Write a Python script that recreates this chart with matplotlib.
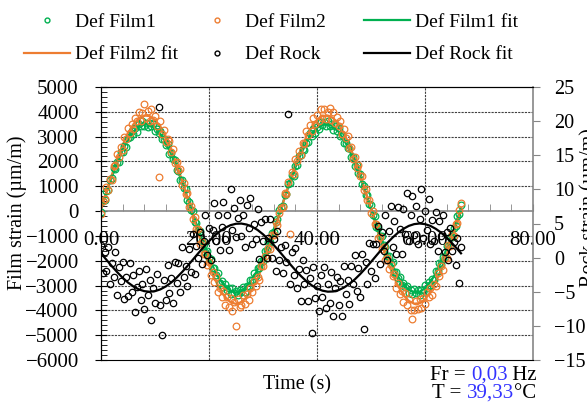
import numpy as np
import matplotlib
matplotlib.use('Agg')
import matplotlib.pyplot as plt
from matplotlib.lines import Line2D
from matplotlib.ticker import MultipleLocator, FixedLocator

plt.rcParams['font.family'] = 'Liberation Serif'

# samples every 1/3 s
t = np.arange(201) / 3

film1 = [-30, 390, 460, 790, 850, 1270, 1330, 1720, 1680, 1960,
         1990, 2380, 2390, 2640, 2570, 2940, 2970, 3230, 3100, 3330,
         3200, 3490, 3410, 3610, 3420, 3550, 3370, 3550, 3430, 3520,
         3230, 3300, 3130, 3240, 2890, 2920, 2680, 2700, 2300, 2360,
         2100, 2070, 1670, 1610, 1240, 1260, 920, 880, 450, 360,
         40, -10, -420, -460, -770, -790, -1220, -1310, -1650, -1620,
         -1910, -1940, -2310, -2310, -2560, -2500, -2890, -2820, -3040, -2940,
         -3160, -3100, -3340, -3100, -3300, -3220, -3380, -3160, -3280, -3050,
         -3250, -3010, -3030, -2760, -2770, -2490, -2620, -2300, -2300, -2030,
         -2030, -1590, -1560, -1250, -1230, -880, -860, -430, -330, 30,
         160, 220, 630, 700, 1100, 1150, 1460, 1430, 1810, 1850,
         2230, 2260, 2520, 2480, 2760, 2790, 3130, 3040, 3290, 3150,
         3390, 3310, 3580, 3450, 3580, 3410, 3610, 3420, 3490, 3260,
         3440, 3240, 3330, 3010, 3050, 2750, 2760, 2540, 2560, 2190,
         2170, 1800, 1840, 1540, 1490, 1090, 1010, 630, 640, 280,
         230, -150, -210, -660, -690, -1010, -1000, -1360, -1450, -1820,
         -1790, -2100, -2070, -2460, -2470, -2700, -2640, -2990, -2900, -3060,
         -3010, -3310, -3170, -3340, -3150, -3320, -3190, -3370, -3190, -3250,
         -2970, -3100, -2870, -2970, -2730, -2760, -2430, -2400, -2090, -2140,
         -1830, -1850, -1420, -1390, -1050, -1040, -700, -590, -180, -110,
         250]

film2 = [-110, 420, 480, 970, 860, 1310, 1260, 1830, 1850, 2310,
         2170, 2570, 2480, 2990, 2920, 3350, 3140, 3490, 3300, 3770,
         3620, 3990, 3640, 3950, 4300, 3760, 4050, 3610, 4120, 3680,
         3820, 3410, 1370, 3610, 3120, 3260, 2790, 2890, 2810, 2390,
         2490, 1950, 1990, 1640, 1680, 1060, 1140, 680, 720, 180,
         210, -310, -220, -730, -720, -1320, -1240, -1710, -1710, -2170,
         -2040, -2590, -2460, -2870, -2670, -3260, -3100, -3470, -3230, -3770,
         -3460, -3870, -3490, -4040, -3670, -4640, -3530, -3860, -3770, -3390,
         -3730, -3350, -3580, -3110, -3240, -2800, -3010, -2640, -2760, -2220,
         -2230, -1790, -1890, -1480, -1540, -980, -960, -440, -570, -80,
         140, 150, 730, 670, 1170, -930, 1580, 1500, 2090, 2030,
         2440, 2270, 2750, 2700, 3220, 3070, 3450, 3240, 3760, 3500,
         3870, 3620, 4100, 3760, 4100, 3700, 4000, 4160, 3690, 4000,
         3530, 3790, 3420, 3620, 3120, 3300, 2930, 3040, 2530, 2600,
         2090, 2190, 1750, 1860, 1400, 1430, 840, 880, 450, 460,
         -60, 10, -520, -500, -1090, -1030, -1510, -1430, -1990, -1880,
         -2320, -2160, -2630, -2550, -3110, -2890, -3350, -3210, -3660, -3320,
         -3770, -3540, -3970, -4350, -3980, -3640, -3930, -3560, -3900, -3500,
         -3730, -3270, -3480, -3100, -3370, -2920, -3020, -2510, -2620, -2210,
         -2360, -1870, -1900, -1380, -1400, -910, -990, -500, -460, 30,
         310]

rock = [1.8, -2.2, 0.8, -1.9, 1.5, -3.9, -0.8, -2.8, 0.8, -5.5,
        -1.4, -3.4, -0.7, -6.0, -2.9, -5.6, -0.8, -5.0, -2.6, -7.9,
        -4.3, -1.9, -6.2, -3.9, -7.5, -1.6, -5.5, -3.3, -9.1, -4.4,
        -6.7, -2.4, 22.0, -7.0, -11.3, -3.3, -6.2, -1.1, -5.2, -3.0,
        -6.6, -0.7, -3.7, -0.8, -5.1, 1.5, -2.9, -1.3, -4.2, 1.3,
        -2.1, 3.5, -2.4, 1.7, 0.0, 3.8, -1.0, 2.5, 6.3, 0.4,
        4.4, -0.4, 4.1, 8.0, 2.5, 6.3, 1.1, 4.5, 8.1, 2.8,
        6.3, 1.1, 10.0, 4.1, 7.2, 3.0, 5.8, 8.5, 3.1, 6.3,
        1.6, 7.7, 4.3, 8.8, 2.0, 5.0, 2.8, 7.1, -0.2, 5.2,
        2.4, 5.6, 0.0, 2.9, 5.7, -0.1, 2.8, -2.0, 3.9, -0.3,
        1.5, -2.3, 1.8, -0.7, 21.0, -3.8, 0.8, -2.6, 1.4, -4.4,
        -1.7, -6.4, -0.4, -3.8, -1.8, -6.4, -3.0, -11.1, -1.4, -5.9,
        -4.1, -7.8, -2.6, -5.7, -1.4, -7.4, -3.9, -6.7, -2.1, -8.6,
        -4.4, -2.8, -7.0, -3.4, -8.5, -1.2, -5.3, -3.3, -6.8, -1.3,
        -3.9, 0.4, -4.9, -1.5, -5.7, 0.6, -10.5, -0.7, -3.8, 2.1,
        -2.0, 2.0, -3.0, 2.0, 4.6, -0.9, 3.8, 0.9, 6.2, -0.4,
        3.9, 7.6, 1.6, 5.4, 0.5, 7.4, 4.2, 0.6, 7.1, 3.4,
        9.5, 2.5, 6.2, 9.1, 3.3, 7.6, 2.0, 5.7, 10.0, 2.9,
        6.8, 4.0, 8.6, 2.0, 5.5, 2.5, 6.7, 0.9, 5.3, 3.1,
        6.3, 0.8, 3.7, -0.3, 4.3, 0.9, 2.3, -1.1, 2.9, -3.7,
        1.6]

# fitted curves, one value per second
fit_t = np.append(np.arange(67.0), 200 / 3)
film1_fit = [120, 757, 1372, 1942, 2447, 2871, 3196, 3413, 3513, 3493,
             3354, 3099, 2740, 2287, 1758, 1171, 546, -94, -726, -1328,
             -1879, -2359, -2751, -3041, -3220, -3280, -3220, -3041, -2751, -2359,
             -1879, -1328, -726, -94, 546, 1171, 1758, 2287, 2740, 3099,
             3354, 3493, 3513, 3413, 3196, 2871, 2447, 1942, 1372, 757,
             120, -517, -1132, -1702, -2207, -2631, -2956, -3173, -3273, -3253,
             -3114, -2859, -2500, -2047, -1518, -931, -306, 120]
film2_fit = [60, 772, 1459, 2096, 2661, 3134, 3498, 3741, 3852, 3830,
             3674, 3390, 2988, 2482, 1891, 1234, 536, -179, -885, -1558,
             -2174, -2710, -3148, -3473, -3673, -3740, -3673, -3473, -3148, -2710,
             -2174, -1558, -885, -179, 536, 1234, 1891, 2482, 2988, 3390,
             3674, 3830, 3852, 3741, 3498, 3134, 2661, 2096, 1459, 772,
             60, -652, -1339, -1976, -2541, -3014, -3378, -3621, -3732, -3710,
             -3554, -3270, -2868, -2362, -1771, -1114, -416, 60]
rock_fit = [0.63, -0.31, -1.24, -2.13, -2.94, -3.65, -4.22, -4.65, -4.91, -5.0,
            -4.91, -4.65, -4.22, -3.65, -2.94, -2.13, -1.24, -0.31, 0.63, 1.55,
            2.41, 3.19, 3.85, 4.38, 4.76, 4.96, 4.99, 4.84, 4.52, 4.05,
            3.42, 2.68, 1.84, 0.94, 0.0, -0.94, -1.84, -2.68, -3.42, -4.05,
            -4.52, -4.84, -4.99, -4.96, -4.76, -4.38, -3.85, -3.19, -2.41, -1.55,
            -0.63, 0.31, 1.24, 2.13, 2.94, 3.65, 4.22, 4.65, 4.91, 5.0,
            4.91, 4.65, 4.22, 3.65, 2.94, 2.13, 1.24, 0.63]

xticks = [0, 20, 40, 60, 80]
xticklabels = ['0.00', '20.00', '40.00', '60.00', '80.00']

green = '#00B050'
orange = '#ED7D31'
blue = '#3333FF'
grey = '#868686'
W, H = 587, 407

fig = plt.figure(figsize=(W / 100, H / 100), dpi=100)
ax = fig.add_axes([101 / W, 1 - 360 / H, 432 / W, 273 / H])
ax2 = ax.twinx()

ax.plot(fit_t, film1_fit, color=green, lw=1.6, zorder=2)
ax.plot(fit_t, film2_fit, color=orange, lw=1.6, zorder=2)
ax.plot(t, film1, ls='none', marker='o', ms=4.8, mfc='none', mec=green, mew=0.9, zorder=3)
ax.plot(t, film2, ls='none', marker='o', ms=4.8, mfc='none', mec=orange, mew=0.9, zorder=3)
ax2.plot(t, rock, ls='none', marker='o', ms=4.6, mfc='none', mec='black', mew=0.9)
ax2.plot(fit_t, rock_fit, color='black', lw=1.6)

ax.set_xlim(0, 80)
ax.set_ylim(-6000, 5000)
ax2.set_ylim(-15, 25)

# grid
for yv in range(-5000, 5000, 1000):
    if yv != 0:
        ax.axhline(yv, color='#404040', lw=0.8, ls=(0, (2, 1)), zorder=1)
for xv in [20, 40, 60]:
    ax.axvline(xv, color='#404040', lw=0.8, ls=(0, (2, 1)), zorder=1)

# x axis through zero
ax.spines['bottom'].set_position(('data', 0))
ax.spines['bottom'].set_color(grey)
ax.spines['bottom'].set_linewidth(1.2)
ax.spines['right'].set_visible(False)
ax.xaxis.set_major_locator(FixedLocator(xticks))
ax.set_xticklabels(xticklabels)
ax.xaxis.set_minor_locator(MultipleLocator(4))
ax.tick_params(axis='x', which='both', direction='in', length=5, color=grey,
               labelsize=15, pad=14)

ax.yaxis.set_major_locator(MultipleLocator(1000))
ax.yaxis.set_minor_locator(MultipleLocator(200))
ax.tick_params(axis='y', which='major', direction='inout', length=8, labelsize=15, pad=12)
ax.tick_params(axis='y', which='minor', direction='in', length=4)

ax2.yaxis.set_major_locator(MultipleLocator(5))
ax2.spines['right'].set_color(grey)
ax2.spines['right'].set_linewidth(1.2)
ax2.tick_params(axis='y', direction='out', length=5, color=grey, labelsize=14.5, pad=10)

# labels
fig.text(17 / W, 1 - 213 / H, 'Film strain (µm/m)', rotation=90, ha='center', va='center', fontsize=14.5)
fig.text(589 / W, 1 - 208 / H, 'Rock strain (µm/m)', rotation=90, ha='center', va='center', fontsize=14.5)
fig.text(297 / W, 1 - 385 / H, 'Time (s)', ha='center', va='center', fontsize=14.5)

# legend, three columns
def mk(c):
    return Line2D([], [], ls='none', marker='o', ms=3.5, mfc='none', mec=c, mew=1)

def ln(c):
    return Line2D([], [], color=c, lw=1.6)

cols = [([mk(green), ln(orange)], ['Def Film1', 'Def Film2 fit'], 24),
        ([mk(orange), mk('black')], ['Def Film2', 'Def Rock'], 194),
        ([ln(green), ln('black')], ['Def Film1 fit', 'Def Rock fit'], 364)]
for hs, labs, x0 in cols:
    fig.legend(hs, labs, loc='upper left', bbox_to_anchor=(x0 / W, 1 - 13 / H),
               frameon=False, fontsize=14, handlelength=2.37, handletextpad=0.26,
               borderpad=0, borderaxespad=0, labelspacing=0.78, numpoints=1)

# frequency / temperature note
renderer = fig.canvas.get_renderer()

def parts_text(x_px, y_px, parts):
    x = x_px
    for s, c in parts:
        tx = fig.text(x / W, 1 - y_px / H, s, color=c, fontsize=15, ha='left', va='center')
        x += tx.get_window_extent(renderer).width

parts_text(430, 375, [('Fr = ', 'black'), ('0,03', blue), (' Hz', 'black')])
parts_text(432, 393, [('T = ', 'black'), ('39,33', blue), ('°C', 'black')])

fig.savefig('out.png', dpi=100)
